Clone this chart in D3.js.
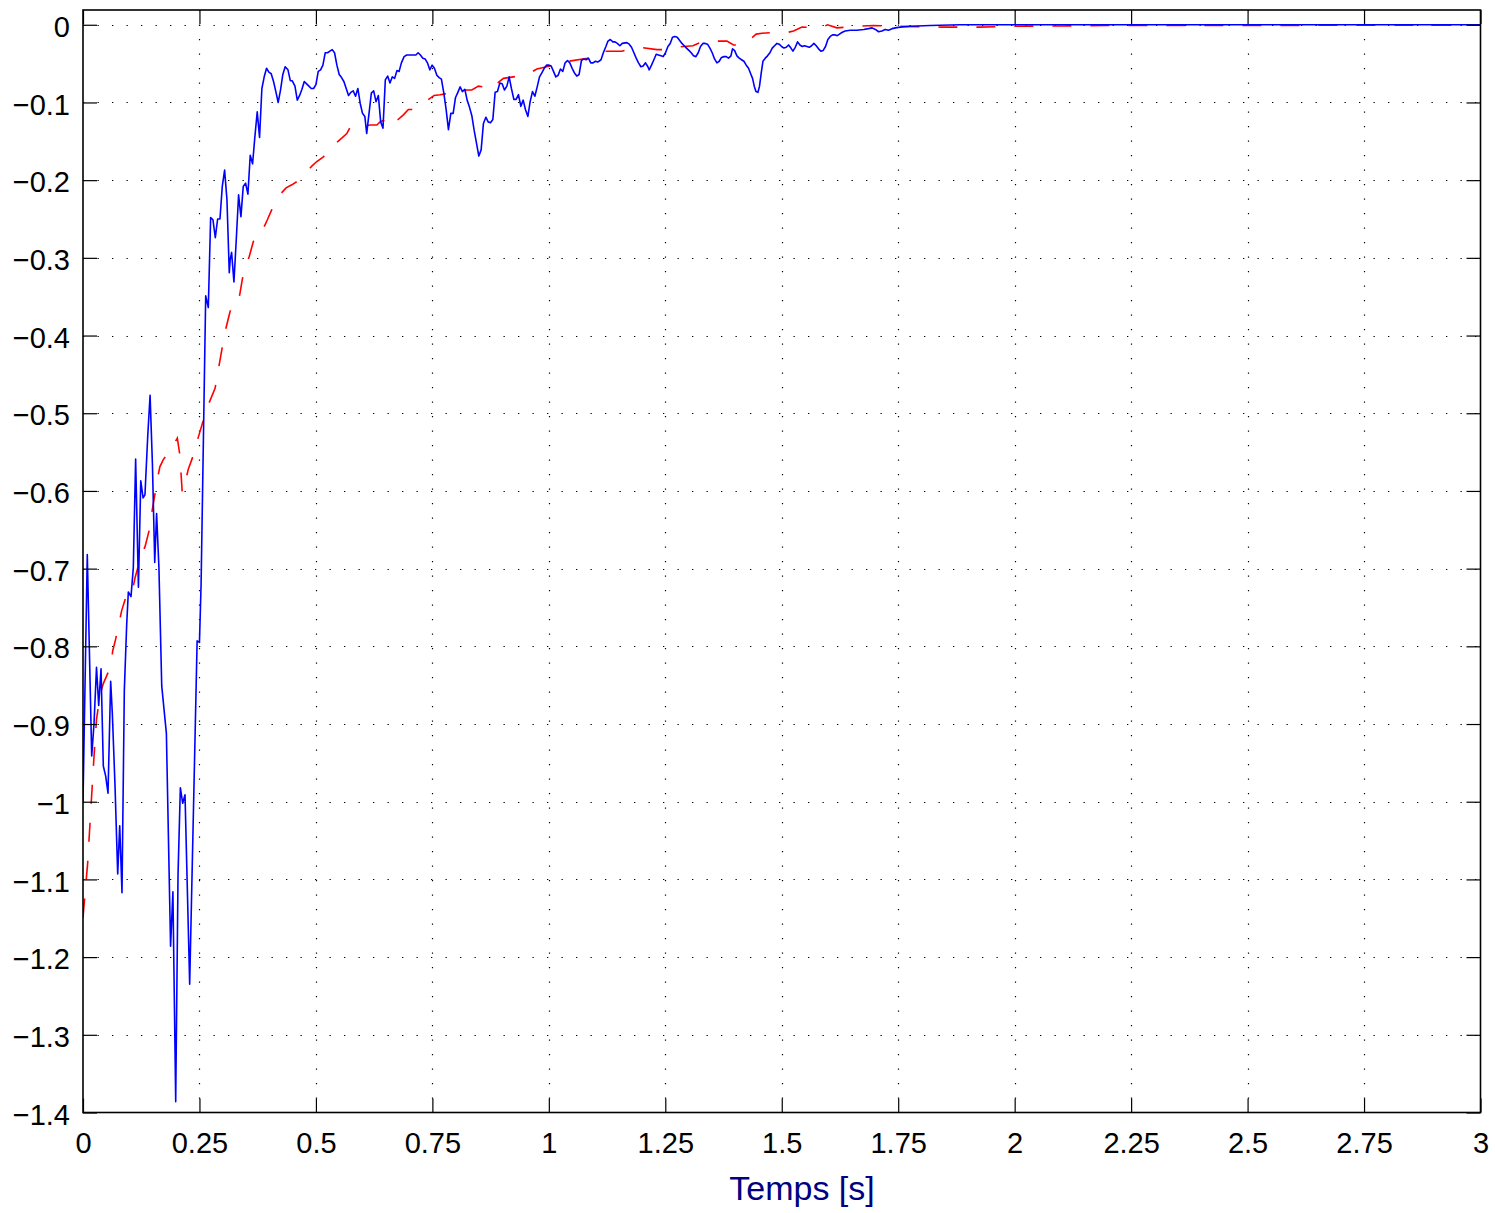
<!DOCTYPE html>
<html>
<head>
<meta charset="utf-8">
<script src="https://cdn.jsdelivr.net/npm/d3@7"></script>
<style>
  html, body { margin: 0; padding: 0; background: #fff; }
  svg { display: block; }
  .tick text { font-family: "Liberation Sans", Arial, Helvetica, sans-serif; font-size: 29px; fill: #000; }
</style>
</head>
<body>
<svg id="chart" width="1495" height="1213"></svg>
<script>
// Tick values shown on each axis
const xTicks = [0, 0.25, 0.5, 0.75, 1, 1.25, 1.5, 1.75, 2, 2.25, 2.5, 2.75, 3];
const yTicks = [0, -0.1, -0.2, -0.3, -0.4, -0.5, -0.6, -0.7, -0.8, -0.9, -1, -1.1, -1.2, -1.3, -1.4];
const xLabel = "Temps [s]";

// Measured response (solid blue)
const measT = [0, 0.0092, 0.0187, 0.0236, 0.029, 0.0337, 0.0387, 0.0436, 0.0487, 0.0537, 0.0594, 0.063, 0.0687, 0.0745, 0.0788, 0.0837, 0.0887, 0.0938, 0.0973, 0.103, 0.108, 0.113, 0.119, 0.124, 0.129, 0.133, 0.139, 0.144, 0.149, 0.154, 0.158, 0.163, 0.169, 0.179, 0.188, 0.193, 0.199, 0.204, 0.209, 0.214, 0.219, 0.229, 0.245, 0.25, 0.2535, 0.2605, 0.2634, 0.269, 0.274, 0.279, 0.284, 0.289, 0.294, 0.299, 0.304, 0.309, 0.314, 0.316, 0.319, 0.324, 0.329, 0.334, 0.339, 0.344, 0.349, 0.354, 0.359, 0.364, 0.369, 0.374, 0.379, 0.384, 0.389, 0.394, 0.399, 0.404, 0.409, 0.414, 0.419, 0.424, 0.429, 0.434, 0.44, 0.445, 0.449, 0.455, 0.46, 0.465, 0.47, 0.475, 0.48, 0.485, 0.49, 0.495, 0.5, 0.505, 0.51, 0.515, 0.52, 0.525, 0.53, 0.535, 0.54, 0.545, 0.55, 0.555, 0.56, 0.565, 0.57, 0.575, 0.58, 0.585, 0.59, 0.595, 0.6, 0.605, 0.609, 0.614, 0.619, 0.624, 0.629, 0.634, 0.639, 0.644, 0.649, 0.654, 0.659, 0.664, 0.669, 0.674, 0.6786, 0.6835, 0.6893, 0.695, 0.702, 0.709, 0.7145, 0.7194, 0.7243, 0.7295, 0.7344, 0.7394, 0.7445, 0.7495, 0.7544, 0.7596, 0.7645, 0.7694, 0.7746, 0.7795, 0.7845, 0.7896, 0.7946, 0.7995, 0.8047, 0.8096, 0.8145, 0.8197, 0.8246, 0.8296, 0.8347, 0.8397, 0.8446, 0.8497, 0.8547, 0.8596, 0.8648, 0.8697, 0.8747, 0.8798, 0.8847, 0.8897, 0.8948, 0.8998, 0.9047, 0.9099, 0.9148, 0.9197, 0.9249, 0.9298, 0.9348, 0.9399, 0.9449, 0.9498, 0.955, 0.9599, 0.9649, 0.97, 0.975, 0.98, 0.985, 0.99, 0.995, 1.0007, 1.005, 1.01, 1.015, 1.02, 1.025, 1.03, 1.035, 1.04, 1.045, 1.05, 1.055, 1.06, 1.065, 1.07, 1.075, 1.08, 1.085, 1.09, 1.095, 1.1, 1.105, 1.112, 1.117, 1.1225, 1.127, 1.132, 1.1375, 1.142, 1.147, 1.1525, 1.1575, 1.1675, 1.1725, 1.1775, 1.1826, 1.1875, 1.1925, 1.1976, 1.2026, 1.2075, 1.2126, 1.2155, 1.2204, 1.2255, 1.2305, 1.2354, 1.2406, 1.2455, 1.2505, 1.2556, 1.2605, 1.2655, 1.2706, 1.2756, 1.2805, 1.2857, 1.2906, 1.2956, 1.3007, 1.3056, 1.3106, 1.3157, 1.3207, 1.3256, 1.3308, 1.3357, 1.3406, 1.3458, 1.3507, 1.3557, 1.3608, 1.3658, 1.3707, 1.3759, 1.3808, 1.3857, 1.3909, 1.3943, 1.3986, 1.4038, 1.4087, 1.4137, 1.4188, 1.4238, 1.4287, 1.4339, 1.4373, 1.441, 1.4446, 1.4489, 1.4523, 1.456, 1.4596, 1.4646, 1.4695, 1.4746, 1.4796, 1.4845, 1.4897, 1.4946, 1.4996, 1.5047, 1.5097, 1.5146, 1.5197, 1.524, 1.529, 1.534, 1.539, 1.544, 1.549, 1.554, 1.559, 1.564, 1.569, 1.574, 1.579, 1.584, 1.589, 1.594, 1.599, 1.604, 1.609, 1.614, 1.619, 1.624, 1.629, 1.636, 1.647, 1.661, 1.676, 1.686, 1.694, 1.701, 1.708, 1.715, 1.722, 1.729, 1.737, 1.744, 1.754, 1.776, 1.819, 1.883, 3.0];
const measV = [-1.0, -0.682, -0.941, -0.9, -0.827, -0.876, -0.829, -0.954, -0.967, -0.989, -0.845, -0.887, -0.979, -1.093, -1.031, -1.117, -0.857, -0.772, -0.73, -0.736, -0.699, -0.559, -0.724, -0.587, -0.609, -0.605, -0.529, -0.477, -0.565, -0.692, -0.629, -0.699, -0.851, -0.912, -1.186, -1.116, -1.386, -1.094, -0.982, -1.002, -0.991, -1.235, -0.793, -0.795, -0.72, -0.457, -0.349, -0.364, -0.248, -0.251, -0.274, -0.25, -0.25, -0.208, -0.187, -0.225, -0.319, -0.302, -0.293, -0.331, -0.277, -0.219, -0.247, -0.208, -0.204, -0.218, -0.168, -0.179, -0.144, -0.112, -0.145, -0.082, -0.067, -0.056, -0.061, -0.063, -0.073, -0.086, -0.1, -0.084, -0.064, -0.054, -0.058, -0.072, -0.072, -0.079, -0.097, -0.091, -0.083, -0.073, -0.076, -0.079, -0.082, -0.082, -0.077, -0.06, -0.058, -0.052, -0.036, -0.036, -0.034, -0.032, -0.036, -0.052, -0.064, -0.068, -0.073, -0.082, -0.091, -0.087, -0.085, -0.092, -0.082, -0.101, -0.114, -0.118, -0.14, -0.114, -0.088, -0.085, -0.099, -0.091, -0.125, -0.133, -0.071, -0.066, -0.075, -0.067, -0.069, -0.059, -0.06, -0.049, -0.041, -0.039, -0.039, -0.039, -0.039, -0.036, -0.039, -0.043, -0.044, -0.049, -0.058, -0.052, -0.056, -0.065, -0.068, -0.07, -0.088, -0.109, -0.135, -0.114, -0.114, -0.094, -0.087, -0.08, -0.086, -0.083, -0.097, -0.106, -0.117, -0.136, -0.152, -0.169, -0.161, -0.127, -0.119, -0.125, -0.126, -0.122, -0.087, -0.086, -0.075, -0.076, -0.084, -0.079, -0.067, -0.082, -0.096, -0.096, -0.09, -0.105, -0.097, -0.109, -0.118, -0.099, -0.086, -0.092, -0.08, -0.067, -0.062, -0.056, -0.052, -0.052, -0.053, -0.06, -0.067, -0.065, -0.057, -0.06, -0.049, -0.046, -0.049, -0.056, -0.062, -0.066, -0.064, -0.046, -0.044, -0.045, -0.043, -0.049, -0.049, -0.047, -0.048, -0.045, -0.036, -0.028, -0.021, -0.019, -0.022, -0.022, -0.024, -0.027, -0.024, -0.023, -0.025, -0.029, -0.036, -0.043, -0.049, -0.054, -0.053, -0.049, -0.054, -0.058, -0.052, -0.045, -0.038, -0.039, -0.04, -0.041, -0.036, -0.028, -0.024, -0.016, -0.015, -0.016, -0.02, -0.024, -0.027, -0.03, -0.033, -0.036, -0.04, -0.041, -0.036, -0.028, -0.024, -0.024, -0.025, -0.03, -0.036, -0.044, -0.049, -0.047, -0.042, -0.041, -0.041, -0.043, -0.04, -0.031, -0.033, -0.04, -0.043, -0.045, -0.047, -0.052, -0.056, -0.064, -0.069, -0.079, -0.086, -0.087, -0.079, -0.062, -0.047, -0.043, -0.04, -0.036, -0.03, -0.027, -0.024, -0.025, -0.028, -0.03, -0.029, -0.026, -0.03, -0.034, -0.029, -0.022, -0.026, -0.028, -0.027, -0.028, -0.029, -0.027, -0.024, -0.027, -0.031, -0.034, -0.033, -0.028, -0.019, -0.015, -0.013, -0.013, -0.014, -0.012, -0.01, -0.008, -0.007, -0.007, -0.006, -0.005, -0.004, -0.006, -0.009, -0.008, -0.006, -0.007, -0.005, -0.004, -0.003, -0.002, -0.001, 0, 0];

// Reference / estimated response (dashed red)
const refT = [0, 0.01, 0.015, 0.0236, 0.029, 0.0365, 0.0436, 0.0544, 0.06, 0.0637, 0.07, 0.0758, 0.083, 0.094, 0.1045, 0.112, 0.119, 0.126, 0.133, 0.142, 0.149, 0.155, 0.16, 0.165, 0.172, 0.183, 0.194, 0.2025, 0.208, 0.213, 0.219, 0.226, 0.237, 0.2455, 0.2583, 0.267, 0.2835, 0.2905, 0.2978, 0.305, 0.3157, 0.3206, 0.33, 0.3357, 0.3442, 0.3515, 0.357, 0.3657, 0.3743, 0.3872, 0.3958, 0.4052, 0.416, 0.4252, 0.436, 0.4482, 0.4589, 0.4696, 0.4804, 0.4911, 0.5019, 0.516, 0.5268, 0.5362, 0.5433, 0.5555, 0.5663, 0.5734, 0.5805, 0.5948, 0.6056, 0.6163, 0.6307, 0.6378, 0.6449, 0.6522, 0.6593, 0.6878, 0.6985, 0.7093, 0.7188, 0.7538, 0.7666, 0.7774, 0.7866, 0.8132, 0.824, 0.8347, 0.8489, 0.8847, 0.8918, 0.9026, 0.9133, 0.947, 0.96, 0.9743, 1.01, 1.0243, 1.0422, 1.083, 1.0995, 1.116, 1.1568, 1.1747, 1.1946, 1.232, 1.2462, 1.2676, 1.3093, 1.325, 1.3428, 1.3823, 1.3965, 1.418, 1.4452, 1.4575, 1.479, 1.5112, 1.5253, 1.5434, 1.5842, 1.5983, 1.6185, 1.66, 1.697, 1.7437, 1.842, 1.925, 2.0, 2.1, 2.2, 3.0];
const refV = [-1.149, -1.079, -1.028, -0.942, -0.894, -0.863, -0.848, -0.833, -0.827, -0.806, -0.791, -0.775, -0.754, -0.733, -0.733, -0.711, -0.696, -0.681, -0.672, -0.651, -0.623, -0.602, -0.584, -0.569, -0.56, -0.551, -0.541, -0.532, -0.554, -0.602, -0.59, -0.572, -0.554, -0.535, -0.509, -0.492, -0.468, -0.444, -0.419, -0.395, -0.369, -0.363, -0.362, -0.35, -0.32, -0.307, -0.298, -0.279, -0.278, -0.262, -0.251, -0.238, -0.225, -0.217, -0.21, -0.206, -0.202, -0.195, -0.189, -0.182, -0.176, -0.17, -0.163, -0.155, -0.152, -0.146, -0.14, -0.132, -0.129, -0.129, -0.13, -0.129, -0.129, -0.125, -0.123, -0.131, -0.131, -0.116, -0.109, -0.109, -0.106, -0.091, -0.09, -0.089, -0.089, -0.085, -0.084, -0.084, -0.079, -0.082, -0.074, -0.069, -0.068, -0.065, -0.062, -0.057, -0.052, -0.049, -0.047, -0.043, -0.039, -0.034, -0.034, -0.031, -0.029, -0.032, -0.032, -0.029, -0.027, -0.023, -0.021, -0.021, -0.026, -0.026, -0.012, -0.011, -0.01, -0.01, -0.008, -0.003, -0.004, 0.0, -0.004, -0.002, -0.001, -0.002, -0.003, -0.003, -0.002, -0.0015, -0.001, -0.0005];

const svg = d3.select("#chart");
const plot = { left: 83, right: 1480.5, top: 10, bottom: 1112.5 };

const x = d3.scaleLinear().domain([0, 3]).range([plot.left, plot.right]);
const y = d3.scaleLinear().domain([-1.4, 0.019]).range([plot.bottom, plot.top]);

const fmt = v => (v < 0 ? "\u2212" : "") + String(Math.abs(v));

// Dotted grid
const grid = svg.append("g").attr("stroke", "#000").attr("stroke-width", 1.2)
  .attr("stroke-dasharray", "1.3,13.2").attr("fill", "none");
grid.selectAll("line.gx").data(xTicks.slice(1, -1)).join("line")
  .attr("x1", d => Math.round(x(d)) + 0.5).attr("x2", d => Math.round(x(d)) + 0.5)
  .attr("y1", plot.top).attr("y2", plot.bottom);
grid.selectAll("line.gy").data(yTicks.slice(0, -1)).join("line")
  .attr("y1", d => Math.round(y(d)) + 0.5).attr("y2", d => Math.round(y(d)) + 0.5)
  .attr("x1", plot.left).attr("x2", plot.right);

// Data lines
const clip = svg.append("clipPath").attr("id", "plotClip").append("rect")
  .attr("x", plot.left).attr("y", plot.top)
  .attr("width", plot.right - plot.left).attr("height", plot.bottom - plot.top);

const lineGen = d3.line().x(d => x(d[0])).y(d => y(d[1]));
const refData = d3.zip(refT, refV);
const measData = d3.zip(measT, measV);

const lines = svg.append("g").attr("clip-path", "url(#plotClip)").attr("fill", "none");
lines.append("path").datum(refData)
  .attr("d", lineGen)
  .attr("stroke", "#ff0000").attr("stroke-width", 1.6)
  .attr("stroke-dasharray", "19,19");
lines.append("path").datum(measData)
  .attr("d", lineGen)
  .attr("stroke", "#0000ff").attr("stroke-width", 1.6)
  .attr("stroke-linejoin", "round");

// Axes with inward ticks on all four sides
const tickLen = 14;
const axB = svg.append("g").attr("transform", `translate(0,${plot.bottom})`)
  .call(d3.axisBottom(x).tickValues(xTicks).tickFormat(fmt).tickSizeInner(-tickLen).tickSizeOuter(0).tickPadding(19.5));
const axT = svg.append("g").attr("transform", `translate(0,${plot.top})`)
  .call(d3.axisTop(x).tickValues(xTicks).tickFormat("").tickSizeInner(-tickLen).tickSizeOuter(0));
const axL = svg.append("g").attr("transform", `translate(${plot.left},0)`)
  .call(d3.axisLeft(y).tickValues(yTicks).tickFormat(fmt).tickSizeInner(-tickLen).tickSizeOuter(0).tickPadding(13));
const axR = svg.append("g").attr("transform", `translate(${plot.right},0)`)
  .call(d3.axisRight(y).tickValues(yTicks).tickFormat("").tickSizeInner(-tickLen).tickSizeOuter(0));

[axB, axT, axL, axR].forEach(a => {
  a.select(".domain").remove();
  a.selectAll(".tick line").attr("stroke", "#000").attr("stroke-width", 1.2);
  a.attr("font-family", null).attr("font-size", null);
});
axL.selectAll(".tick text").attr("dy", "0.4em");

// Frame
svg.append("rect")
  .attr("x", plot.left).attr("y", plot.top)
  .attr("width", plot.right - plot.left).attr("height", plot.bottom - plot.top)
  .attr("fill", "none").attr("stroke", "#000").attr("stroke-width", 1.6);

// Axis title
svg.append("text")
  .attr("x", 802).attr("y", 1200)
  .attr("text-anchor", "middle")
  .attr("font-family", "'Liberation Sans', Arial, sans-serif")
  .attr("font-size", 34)
  .attr("fill", "#000080")
  .text(xLabel);
</script>
</body>
</html>
